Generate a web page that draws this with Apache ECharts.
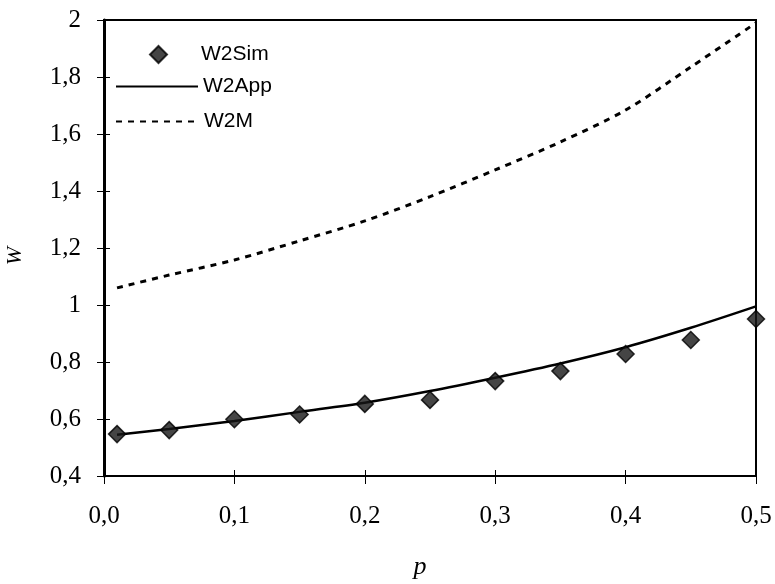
<!DOCTYPE html>
<html>
<head>
<meta charset="utf-8">
<script src="https://cdn.jsdelivr.net/npm/echarts@6/dist/echarts.min.js"></script>
<style>
  html, body { margin: 0; padding: 0; background: #fff; }
  #main { width: 775px; height: 584px; }
</style>
</head>
<body>
<div id="main"></div>
<script>
  // values
  var pSim = [0.01, 0.05, 0.1, 0.15, 0.2, 0.25, 0.3, 0.35, 0.4, 0.45, 0.5];
  var w2Sim = [0.547, 0.561, 0.599, 0.616, 0.653, 0.667, 0.733, 0.768, 0.828, 0.877, 0.951];
  var pCurve = [0.01, 0.05, 0.1, 0.15, 0.2, 0.25, 0.3, 0.35, 0.4, 0.45, 0.5];
  var w2App = [0.545, 0.565, 0.593, 0.625, 0.657, 0.698, 0.745, 0.795, 0.852, 0.92, 0.995];
  var w2M = [1.06, 1.105, 1.158, 1.225, 1.295, 1.38, 1.474, 1.572, 1.684, 1.835, 1.99];
  var xTickLabels = ['0,0', '0,1', '0,2', '0,3', '0,4', '0,5'];
  var yTickLabels = ['0,4', '0,6', '0,8', '1', '1,2', '1,4', '1,6', '1,8', '2'];

  function pairs(xs, ys) {
    return xs.map(function (x, i) { return [x, ys[i]]; });
  }

  var serif = '"Liberation Serif", "DejaVu Serif", serif';
  var sans = '"Liberation Sans", Arial, sans-serif';
  var legendText = { fontFamily: sans, fontSize: 21, color: '#000' };
  // hide the dot ECharts puts on line legend icons
  var noDot = { color: 'transparent', borderWidth: 0, opacity: 0 };

  var chart = echarts.init(document.getElementById('main'));
  chart.setOption({
    backgroundColor: '#fff',
    animation: false,
    grid: {
      left: 104, right: 19, top: 20, bottom: 108,
      containLabel: false, outerBoundsMode: 'none',
      show: true, borderColor: '#000', borderWidth: 2
    },
    legend: [
      {
        left: 149, top: 44, padding: 0, itemWidth: 17, itemHeight: 17,
        data: ['W2Sim'],
        textStyle: Object.assign({ padding: [0, 0, 0, 29] }, legendText)
      },
      {
        left: 115, top: 76, padding: 0, itemWidth: 82, itemHeight: 14,
        data: ['W2App'],
        itemStyle: noDot,
        textStyle: legendText
      },
      {
        left: 115, top: 111, padding: 0, itemWidth: 83, itemHeight: 14,
        data: ['W2M'],
        itemStyle: noDot,
        textStyle: legendText
      }
    ],
    xAxis: [
      {
        type: 'value', min: 0, max: 0.5, interval: 0.1,
        name: 'p', nameLocation: 'middle', nameGap: 78,
        nameTextStyle: { fontFamily: serif, fontStyle: 'italic', fontSize: 26, color: '#000', padding: [0, 20, 0, 0] },
        axisLine: { show: true, lineStyle: { color: '#000', width: 2 } },
        axisTick: { show: true, length: 8, lineStyle: { color: '#000', width: 1 } },
        axisLabel: {
          margin: 28, fontFamily: serif, fontSize: 25, color: '#000',
          formatter: function (v) { return xTickLabels[Math.round(v / 0.1)]; }
        },
        splitLine: { show: false }
      },
      {
        type: 'value', min: 0, max: 0.5, interval: 0.1, position: 'bottom',
        axisLine: { show: false },
        axisTick: { show: true, inside: true, length: 6, lineStyle: { color: '#000', width: 1 } },
        axisLabel: { show: false },
        splitLine: { show: false }
      }
    ],
    yAxis: [
      {
        type: 'value', min: 0.4, max: 2, interval: 0.2,
        name: 'W', nameLocation: 'middle', nameGap: 78, nameRotate: 90,
        nameTextStyle: { fontFamily: serif, fontStyle: 'italic', fontSize: 22, color: '#000', padding: [0, 16, 0, 0] },
        axisLine: { show: true, lineStyle: { color: '#000', width: 3 } },
        axisTick: { show: true, length: 7, lineStyle: { color: '#000', width: 1 } },
        axisLabel: {
          margin: 23, fontFamily: serif, fontSize: 25, color: '#000',
          formatter: function (v) { return yTickLabels[Math.round((v - 0.4) / 0.2)]; }
        },
        splitLine: { show: false }
      },
      {
        type: 'value', min: 0.4, max: 2, interval: 0.2, position: 'left',
        axisLine: { show: false },
        axisTick: { show: true, inside: true, length: 6, lineStyle: { color: '#000', width: 1 } },
        axisLabel: { show: false },
        splitLine: { show: false }
      }
    ],
    series: [
      {
        name: 'W2App',
        type: 'line',
        data: pairs(pCurve, w2App),
        smooth: 0.3,
        symbol: 'none',
        lineStyle: { color: '#000', width: 2.5 },
        itemStyle: { color: '#000' },
        z: 2
      },
      {
        name: 'W2M',
        type: 'line',
        data: pairs(pCurve, w2M),
        smooth: 0.3,
        symbol: 'none',
        lineStyle: { color: '#000', width: 3, type: [6, 6] },
        itemStyle: { color: '#000' },
        z: 2
      },
      {
        name: 'W2Sim',
        type: 'scatter',
        data: pairs(pSim, w2Sim),
        symbol: 'diamond',
        symbolSize: 17,
        itemStyle: { color: '#161616', borderColor: '#000', borderWidth: 1.5 },
        z: 3
      }
    ]
  });
</script>
</body>
</html>
